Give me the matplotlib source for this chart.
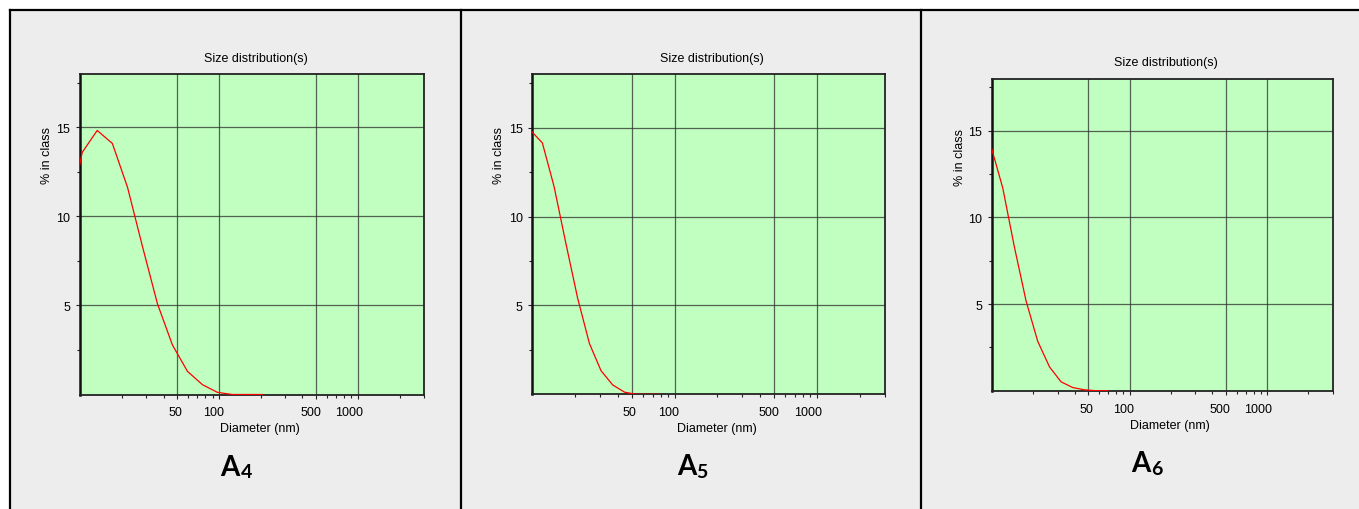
import matplotlib
matplotlib.use("Agg")
import matplotlib.pyplot as plt
from matplotlib.ticker import FixedLocator, FixedFormatter, NullFormatter
from matplotlib.lines import Line2D
from matplotlib.patches import Rectangle
import matplotlib.transforms as mtransforms

# ---------------- data ----------------
diam_A4 = [8.07, 10.38, 13.3, 17.1, 22.0, 28.2, 36.1, 46.3, 59.4, 76.2, 97.7, 125, 161, 206]
pct_A4 = [9.5, 13.6, 14.83, 14.1, 11.63, 8.3, 5.1, 2.78, 1.30, 0.55, 0.12, 0.0, 0.0, 0.0]

diam_A5 = [9.74, 11.77, 14.23, 17.22, 20.8, 25.2, 30.4, 36.7, 44.5, 53.8, 65.0, 78.5]
pct_A5 = [14.84, 14.14, 11.68, 8.49, 5.43, 2.86, 1.33, 0.53, 0.12, 0.0, 0.0, 0.0]

diam_A6 = [9.83, 11.97, 14.54, 17.7, 21.5, 26.2, 31.8, 38.7, 47.1, 57.3, 69.7]
pct_A6 = [14.1, 11.7, 8.3, 5.17, 2.85, 1.37, 0.51, 0.18, 0.05, 0.0, 0.0]

x_major = [50, 100, 500, 1000]
x_major_labels = ["50", "100", "500", "1000"]
x_minor = [20, 30, 40, 60, 70, 80, 90, 200, 300, 400, 600, 700, 800, 900, 2000, 3000]
y_major = [5, 10, 15]
y_major_labels = ["5", "10", "15"]
y_minor = [2.5, 7.5, 12.5, 17.5]

panel_names = ["4", "5", "6"]
title_text = "Size distribution(s)"
xlabel_text = "Diameter (nm)"
ylabel_text = "% in class"

# ---------------- layout (pixels) ----------------
W, H = 1359, 510
DPI = 100
plt.rcParams['font.family'] = ['Liberation Sans', 'DejaVu Sans']

fig = plt.figure(figsize=(W / DPI, H / DPI), dpi=DPI)
fig.patch.set_facecolor('white')


def fx(x):
    return x / W


def fy(y):
    return 1 - y / H


# grey background + frame lines
fig.patches.append(Rectangle((fx(10), 0), 1 - fx(10), fy(11), transform=fig.transFigure,
                             facecolor='#ededed', edgecolor='none', zorder=-10))
for (x0, y0, x1, y1) in [(10, 11, W, 11), (10, 11, 10, H), (461, 11, 461, H), (921, 11, 921, H)]:
    fig.lines.append(Line2D([fx(x0), fx(x1)], [fy(y0), fy(y1)], transform=fig.transFigure,
                            color='black', lw=1.6, zorder=-5))

# axes boxes: left, top, right, bottom in px
boxes = [(80, 75, 424, 395.5), (532.3, 75.3, 884.7, 395.3), (992, 79.7, 1332.7, 391.7)]
titles_xy = [(255.7, 59.3), (712.3, 59.3), (1166.3, 63.3)]
xlabels_xy = [(259.5, 429.3), (716.7, 429.3), (1170.2, 425.7)]
ylabels_xy = [(47.3, 155.5), (499.0, 155.0), (959.7, 157.5)]
A_xy = [(220, 476, 241, 478.3), (676.7, 475, 696.5, 478.3), (1131.3, 471.7, 1151.3, 475)]

series = [(diam_A4, pct_A4), (diam_A5, pct_A5), (diam_A6, pct_A6)]

for i in range(3):
    l, t, r, b = boxes[i]
    ax = fig.add_axes([fx(l), fy(b), fx(r) - fx(l), fy(t) - fy(b)])
    ax.set_zorder(5)
    ax.set_facecolor('#c0ffc0')
    ax.set_xscale('log')
    ax.set_xlim(10, 3000)
    ax.set_ylim(0, 18)

    d, p = series[i]
    ax.plot(d, p, color='#ff0000', lw=0.9, zorder=3)

    ax.xaxis.set_major_locator(FixedLocator(x_major))
    ax.xaxis.set_major_formatter(FixedFormatter(x_major_labels))
    ax.xaxis.set_minor_locator(FixedLocator(x_minor))
    ax.xaxis.set_minor_formatter(NullFormatter())
    ax.yaxis.set_major_locator(FixedLocator(y_major))
    ax.yaxis.set_major_formatter(FixedFormatter(y_major_labels))
    ax.yaxis.set_minor_locator(FixedLocator(y_minor))
    ax.yaxis.set_minor_formatter(NullFormatter())

    ax.grid(True, which='major', color='#2e2e2e', lw=0.9, alpha=0.75, zorder=1)
    ax.set_axisbelow(True)
    ax.tick_params(axis='both', which='major', direction='out', length=3, width=0.8,
                   labelsize=9, color='#222222')
    ax.tick_params(axis='both', which='minor', direction='out', length=2, width=0.8,
                   color='#222222')
    ax.tick_params(axis='y', which='major', pad=4)
    ax.tick_params(axis='x', which='major', pad=5.5)
    for s in ['top', 'right', 'bottom']:
        ax.spines[s].set_linewidth(1.3)
        ax.spines[s].set_color('#222222')
    ax.spines['left'].set_linewidth(1.8)
    ax.spines['left'].set_color('#111111')

    offset = mtransforms.ScaledTranslation(5 / DPI, 0, fig.dpi_scale_trans)
    for tick in ax.xaxis.get_major_ticks():
        tick.label1.set_horizontalalignment('right')
        tick.label1.set_transform(tick.label1.get_transform() + offset)

    tx, ty = titles_xy[i]
    fig.text(fx(tx), fy(ty), title_text, ha='center', va='center', fontsize=9)
    lx, ly = xlabels_xy[i]
    fig.text(fx(lx), fy(ly), xlabel_text, ha='center', va='center', fontsize=9)
    yx, yy = ylabels_xy[i]
    fig.text(fx(yx), fy(yy), ylabel_text, ha='center', va='center', rotation=90, fontsize=9)

    ax_, ay_, dx_, dy_ = A_xy[i]
    fig.text(fx(ax_), fy(ay_), "A", ha='left', va='baseline', fontsize=20,
             fontweight='bold', family=['Lato', 'DejaVu Sans'])
    fig.text(fx(dx_), fy(dy_), panel_names[i], ha='left', va='baseline', fontsize=14,
             fontweight='bold', family=['Lato', 'DejaVu Sans'])

fig.savefig('out.png', dpi=DPI, facecolor='white')
